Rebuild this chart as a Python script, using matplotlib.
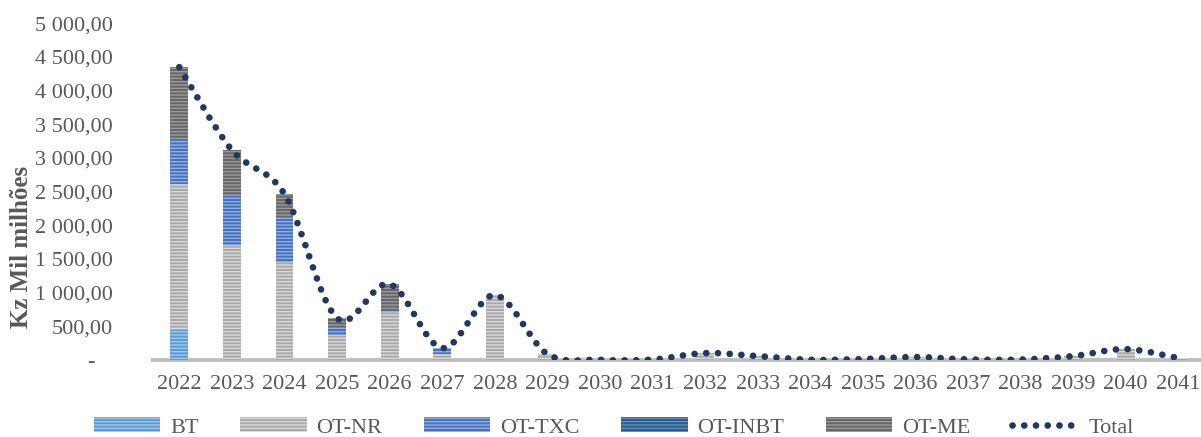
import numpy as np
import matplotlib
matplotlib.use("Agg")
import matplotlib.pyplot as plt
from matplotlib.patches import Patch
from matplotlib.lines import Line2D
from matplotlib.path import Path
from matplotlib.patches import PathPatch

years = [str(y) for y in range(2022, 2042)]
bt   = [445, 0, 0, 0, 0, 0, 0, 0, 0, 0, 0, 0, 0, 0, 0, 0, 0, 0, 0, 0]
ot_nr = [2166, 1706, 1454, 371, 712, 89, 964, 89, 5, 8, 104, 59, 5, 15, 45, 10, 8, 59, 163, 30]
ot_txc = [668, 742, 668, 119, 30, 89, 0, 0, 0, 0, 0, 0, 0, 0, 0, 0, 0, 0, 0, 0]
ot_inbt = [0, 0, 0, 0, 0, 0, 0, 0, 0, 0, 0, 0, 0, 0, 0, 0, 0, 0, 0, 0]
ot_me = [1068, 668, 341, 133, 386, 0, 0, 0, 0, 0, 0, 0, 0, 0, 0, 0, 0, 0, 0, 0]
series_names = ["BT", "OT-NR", "OT-TXC", "OT-INBT", "OT-ME"]
yticks = [0, 500, 1000, 1500, 2000, 2500, 3000, 3500, 4000, 4500, 5000]

plt.rcParams['font.family'] = ['Liberation Serif', 'DejaVu Serif']
plt.rcParams['hatch.linewidth'] = 1.0

series = [bt, ot_nr, ot_txc, ot_inbt, ot_me]
faces = ["#5B9BD5", "#A9A9A9", "#4472C4", "#2A5D8F", "#666666"]
stripes = ["#A4C8E8", "#D8D8D8", "#95AEDD", "#5F8BB8", "#9A9A9A"]
hatch = "-----"
FS = 16

fig = plt.figure(figsize=(12.01, 4.37), dpi=100)
ax = fig.add_axes([0.1274, 0.176, 0.8756, 0.771])

x = np.arange(len(years))
bottom = np.zeros(len(years))
for vals, fc, sc in zip(series, faces, stripes):
    v = np.array(vals, dtype=float)
    ax.bar(x, v, width=0.34, bottom=bottom, color=fc, edgecolor=sc,
           linewidth=0, hatch=hatch, zorder=2)
    bottom += v

total = bottom.copy()

# Excel-like smoothed line (cubic Bezier through points)
def smooth_path(xs, ys):
    pts = np.column_stack([xs, ys])
    n = len(pts)
    verts = [pts[0]]
    codes = [Path.MOVETO]
    for i in range(n - 1):
        p0 = pts[i - 1] if i > 0 else pts[i]
        p1 = pts[i]
        p2 = pts[i + 1]
        p3 = pts[i + 2] if i + 2 < n else pts[i + 1]
        c1 = p1 + (p2 - p0) / 6.0
        c2 = p2 - (p3 - p1) / 6.0
        verts += [c1, c2, p2]
        codes += [Path.CURVE4] * 3
    return Path(verts, codes)

line_color = "#203864"
LW = 4.8
DASH = (0, (0.01, 1.75))
pp = PathPatch(smooth_path(x.astype(float), total), facecolor='none',
               edgecolor=line_color, linewidth=LW,
               linestyle=DASH, capstyle='round', zorder=3)
ax.add_patch(pp)

ax.set_xlim(-0.5, len(years) - 0.5)
ax.set_ylim(0, 5000)
ax.set_xticks(x)
ax.set_xticklabels(years)

def fmt(v):
    if v == 0:
        return "-   "
    s = f"{v:,.2f}"
    return s.replace(",", " ").replace(".", ",")

ax.set_yticks(yticks)
ax.set_yticklabels([fmt(v) for v in yticks])
ax.tick_params(axis='both', length=0, colors="#595959", labelsize=FS)
ax.tick_params(axis='y', pad=29)
ax.tick_params(axis='x', pad=11)
for s in ['top', 'right', 'left']:
    ax.spines[s].set_visible(False)
ax.spines['bottom'].set_color("#BFBFBF")
ax.spines['bottom'].set_linewidth(2.8)
ax.spines['bottom'].set_zorder(1)

fig.text(0.018, 0.435, "Kz Mil milhões", rotation=90, fontsize=18,
         fontweight='bold', color="#595959", ha='center', va='center')

handles = [Patch(facecolor=fc, edgecolor=sc, linewidth=0, hatch=hatch)
           for fc, sc in zip(faces, stripes)]
handles.append(Line2D([], [], color=line_color, linewidth=LW,
                      linestyle=DASH, dash_capstyle='round'))
labels = series_names + ["Total"]
fig.legend(handles, labels, loc='center', bbox_to_anchor=(0.511, 0.022),
           ncol=6, frameon=False, fontsize=FS, handlelength=3.0,
           handleheight=0.68, handletextpad=0.45, columnspacing=1.85,
           labelcolor="#595959", borderpad=0)

fig.savefig("out.png", dpi=100)
